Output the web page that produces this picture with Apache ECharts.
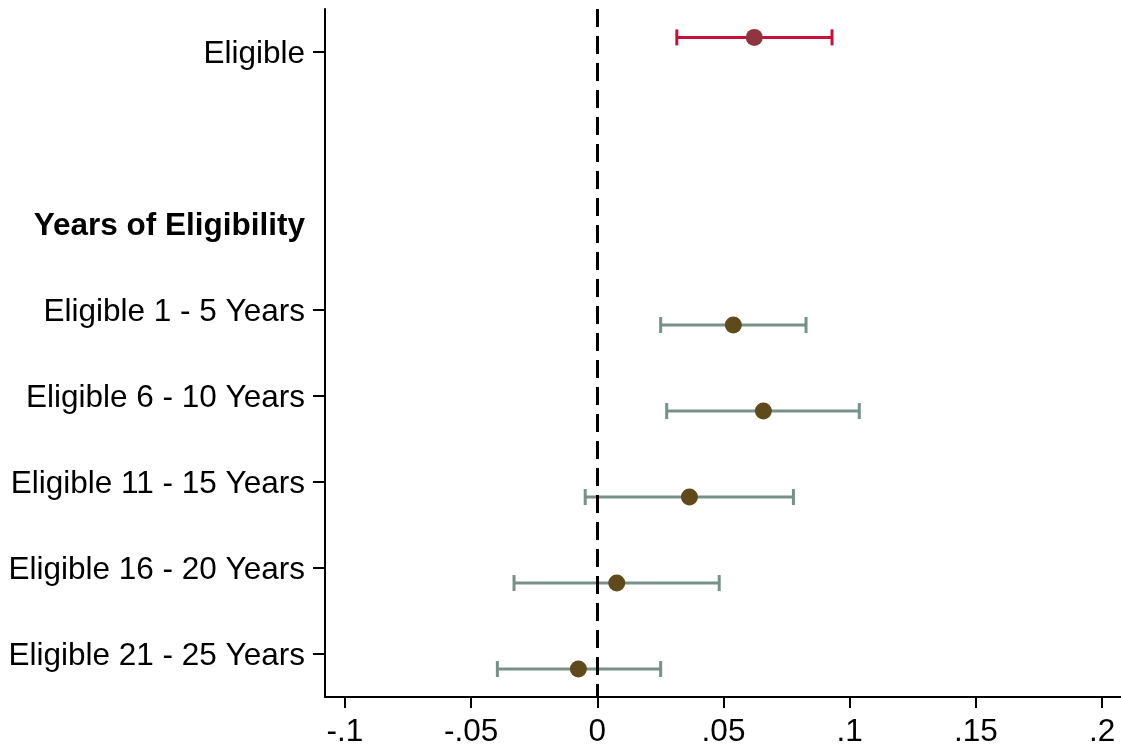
<!DOCTYPE html>
<html>
<head>
<meta charset="utf-8">
<script src="https://cdn.jsdelivr.net/npm/echarts@6/dist/echarts.min.js"></script>
<style>
  html, body { margin: 0; padding: 0; background: #fff; }
  #chart { width: 1121px; height: 748px; }
</style>
</head>
<body>
<div id="chart"></div>
<script>
// Row labels on the y axis (row index -> label)
const rowLabels = {
  0: 'Eligible',
  2: '{head|Years of Eligibility}',
  3: 'Eligible 1 - 5 Years',
  4: 'Eligible 6 - 10 Years',
  5: 'Eligible 11 - 15 Years',
  6: 'Eligible 16 - 20 Years',
  7: 'Eligible 21 - 25 Years'
};
const labelRows = [0, 2, 3, 4, 5, 6, 7];
const tickRows = [0, 3, 4, 5, 6, 7];

// Overall eligibility coefficient
const overallRow = [0];
const overallEst = [0.0622];
const overallLo = [0.0315];
const overallHi = [0.0930];

// Coefficients by years of eligibility
const yearsRows = [3, 4, 5, 6, 7];
const yearsEst = [0.0539, 0.0658, 0.0365, 0.0077, -0.0075];
const yearsLo = [0.0251, 0.0275, -0.0048, -0.0330, -0.0396];
const yearsHi = [0.0827, 0.1038, 0.0777, 0.0483, 0.0251];

// x-axis ticks
const xTicks = [-0.1, -0.05, 0, 0.05, 0.1, 0.15, 0.2];

// vertical shift of each model's markers relative to its row
const overallShift = -0.17;
const yearsShift = 0.175;

const FONT = '"Liberation Sans", Arial, Helvetica, sans-serif';
const FONT_SIZE = 31.5;

function fmtTick(v) {
  if (Math.abs(v) < 1e-9) return '0';
  let s = String(Math.round(v * 1000) / 1000);
  return s.replace(/^(-?)0\./, '$1.');
}

function errorBars(rows, lo, hi, shift) {
  return rows.map((r, i) => [lo[i], hi[i], r + shift]);
}
function points(rows, est, shift) {
  return rows.map((r, i) => [est[i], r + shift]);
}

function renderBar(color) {
  return function (params, api) {
    const a = api.coord([api.value(0), api.value(2)]);
    const b = api.coord([api.value(1), api.value(2)]);
    const h = 8;
    const style = { stroke: color, lineWidth: 3 };
    return {
      type: 'group',
      children: [
        { type: 'line', shape: { x1: a[0], y1: a[1], x2: b[0], y2: b[1] }, style },
        { type: 'line', shape: { x1: a[0], y1: a[1] - h, x2: a[0], y2: a[1] + h }, style },
        { type: 'line', shape: { x1: b[0], y1: b[1] - h, x2: b[0], y2: b[1] + h }, style }
      ]
    };
  };
}

const chart = echarts.init(document.getElementById('chart'), null, { renderer: 'canvas' });

chart.setOption({
  animation: false,
  backgroundColor: '#ffffff',
  grid: { left: 325, right: 0, top: 9, bottom: 51, containLabel: false },
  xAxis: {
    type: 'value',
    min: -0.1079,
    max: 0.2075,
    splitLine: { show: false },
    axisLine: { show: true, onZero: false, lineStyle: { color: '#000', width: 2 } },
    axisTick: { show: true, customValues: xTicks, length: 11, lineStyle: { color: '#000', width: 2 } },
    axisLabel: {
      customValues: xTicks,
      formatter: fmtTick,
      color: '#000',
      fontFamily: FONT,
      fontSize: FONT_SIZE,
      margin: 19
    }
  },
  yAxis: {
    type: 'value',
    inverse: true,
    min: -0.5,
    max: 7.5,
    splitLine: { show: false },
    axisLine: { show: true, onZero: false, lineStyle: { color: '#000', width: 2 } },
    axisTick: { show: true, customValues: tickRows, length: 12, lineStyle: { color: '#000', width: 2 } },
    axisLabel: {
      customValues: labelRows,
      formatter: v => rowLabels[Math.round(v)] || '',
      color: '#000',
      fontFamily: FONT,
      fontSize: FONT_SIZE,
      margin: 20,
      padding: [4, 0, 0, 0],
      rich: {
        head: { fontWeight: 'bold', fontSize: FONT_SIZE, fontFamily: FONT, color: '#000' }
      }
    }
  },
  series: [
    {
      type: 'custom',
      renderItem: renderBar('#c8103a'),
      encode: { x: [0, 1], y: 2 },
      data: errorBars(overallRow, overallLo, overallHi, overallShift),
      z: 3,
      markLine: {
        silent: true,
        symbol: 'none',
        label: { show: false },
        lineStyle: { color: '#000', width: 3, type: [18, 9] },
        data: [{ xAxis: 0 }]
      }
    },
    {
      type: 'custom',
      renderItem: renderBar('#779189'),
      encode: { x: [0, 1], y: 2 },
      data: errorBars(yearsRows, yearsLo, yearsHi, yearsShift),
      z: 3
    },
    {
      type: 'scatter',
      symbol: 'circle',
      symbolSize: 17,
      itemStyle: { color: '#8f3540', opacity: 1 },
      data: points(overallRow, overallEst, overallShift),
      z: 5
    },
    {
      type: 'scatter',
      symbol: 'circle',
      symbolSize: 17,
      itemStyle: { color: '#5e4a1b', opacity: 1 },
      data: points(yearsRows, yearsEst, yearsShift),
      z: 5
    }
  ]
});
</script>
</body>
</html>
